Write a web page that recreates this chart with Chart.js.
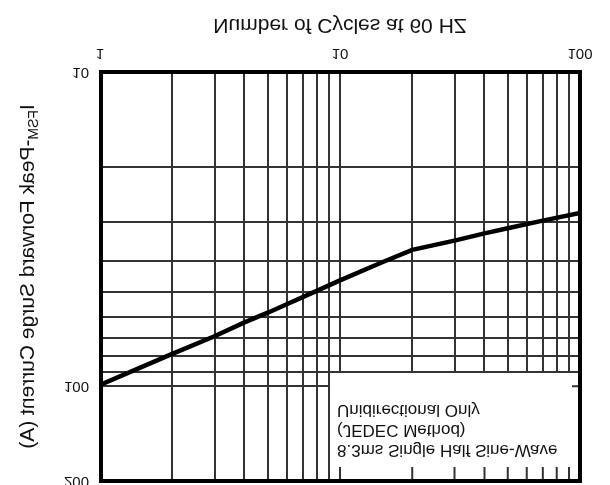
<!DOCTYPE html>
<html>
<head>
<meta charset="utf-8">
<script src="https://cdn.jsdelivr.net/npm/chart.js@4.4.1/dist/chart.umd.min.js"></script>
<style>
  html, body { margin: 0; padding: 0; background: #fff; }
  /* the source picture is mirrored top-to-bottom, so draw upright and flip */
  #wrap { width: 610px; height: 485px; transform: scaleY(-1); }
</style>
</head>
<body>
<div id="wrap"><canvas id="surgeChart"></canvas></div>
<script>
// --- data ---
const cycles = [1, 2, 3, 4, 5, 6, 8, 10, 15, 20, 30, 40, 50, 70, 100];
const surgeCurrent = [99, 78.8, 69.3, 62.6, 58.3, 54.8, 49.7, 46, 40.3, 36.8, 34.4, 32.6, 31.4, 29.7, 28.1];

const xGrid = [1, 2, 3, 4, 5, 6, 7, 8, 9, 10, 20, 30, 40, 50, 60, 70, 80, 90, 100];
const yGrid = [10, 20, 30, 40, 50, 60, 70, 80, 90, 100, 200];
const xTickLabels = ['1', '10', '100'];
const yTickLabels = ['10', '100', '200'];

const noteLines = ['8.3ms Single Half Sine-Wave', '(JEDEC Method)', 'Unidirectional Only'];
const noteFromCycles = 9;
const noteAboveAmps = 90;

const lineColor = '#333';
const textColor = '#111';
const fontFamily = '"Liberation Sans", Arial, Helvetica, sans-serif';
Chart.defaults.font.family = fontFamily;

// white note box, its edge ticks, frame and the y title with subscript
const notePlugin = {
    id: 'note',
    beforeDatasetsDraw(chart) {
        const { ctx, chartArea: a, scales: { x, y } } = chart;
        const left = x.getPixelForValue(noteFromCycles);
        const edge = y.getPixelForValue(noteAboveAmps);
        ctx.save();
        ctx.fillStyle = '#fff';
        ctx.fillRect(left + 1, a.top, a.right - left - 1, edge - a.top - 1);

        ctx.strokeStyle = lineColor;
        ctx.lineWidth = 2;
        ctx.beginPath();
        xGrid.filter(v => v > noteFromCycles && v < 100).forEach(v => {
            const px = x.getPixelForValue(v);
            ctx.moveTo(px, a.top);
            ctx.lineTo(px, a.top + 14);
        });
        const p100 = y.getPixelForValue(100);
        ctx.moveTo(a.right - 8, p100);
        ctx.lineTo(a.right, p100);
        ctx.stroke();

        ctx.fillStyle = textColor;
        ctx.font = '17px ' + fontFamily;
        ctx.textBaseline = 'middle';
        noteLines.forEach((t, i) => ctx.fillText(t, left + 8, a.top + 31 + i * 20));
        ctx.restore();
    },
    afterDatasetsDraw(chart) {
        const { ctx, chartArea: a } = chart;
        ctx.save();
        ctx.strokeStyle = '#000';
        ctx.lineWidth = 4;
        ctx.strokeRect(a.left + 1, a.top, a.right - a.left - 1, a.bottom - a.top);

        // y title: I + FSM subscript
        const big = '21px ' + fontFamily;
        const small = '14px ' + fontFamily;
        const rest = '-Peak Forward Surge Current (A)';
        ctx.font = big;
        const wI = ctx.measureText('I').width;
        const wR = ctx.measureText(rest).width;
        ctx.font = small;
        const wS = ctx.measureText('FSM').width;
        ctx.translate(27, (a.top + a.bottom) / 2);
        ctx.rotate(-Math.PI / 2);
        ctx.fillStyle = textColor;
        ctx.textBaseline = 'alphabetic';
        let cx = -(wI + wS + wR) / 2;
        ctx.font = big;
        ctx.fillText('I', cx, 7);
        cx += wI;
        ctx.font = small;
        ctx.fillText('FSM', cx, 11);
        cx += wS;
        ctx.font = big;
        ctx.fillText(rest, cx, 7);
        ctx.restore();
    }
};

new Chart(document.getElementById('surgeChart'), {
    type: 'scatter',
    data: {
        datasets: [{
            data: cycles.map((c, i) => ({ x: c, y: surgeCurrent[i] })),
            showLine: true,
            borderColor: '#000',
            borderWidth: 4.5,
            pointRadius: 0,
            tension: 0
        }]
    },
    options: {
        responsive: true,
        maintainAspectRatio: false,
        animation: false,
        layout: { padding: { top: 4, right: 30, bottom: 0, left: 0 } },
        plugins: { legend: { display: false }, tooltip: { enabled: false } },
        scales: {
            x: {
                type: 'logarithmic',
                min: 1,
                max: 100,
                position: 'bottom',
                afterBuildTicks: s => { s.ticks = xGrid.map(v => ({ value: v })); },
                afterFit: s => { s.height = 72; },
                grid: { color: lineColor, lineWidth: 2, drawTicks: false },
                border: { display: false },
                ticks: {
                    autoSkip: false,
                    maxRotation: 0,
                    padding: 10,
                    color: textColor,
                    font: { size: 15 },
                    callback: v => xTickLabels.includes(String(v)) ? String(v) : ''
                },
                title: {
                    display: true,
                    text: 'Number of Cycles at 60 HZ',
                    color: textColor,
                    font: { size: 21 },
                    padding: { top: 0, bottom: 12 }
                }
            },
            y: {
                type: 'logarithmic',
                min: 10,
                max: 200,
                afterBuildTicks: s => { s.ticks = yGrid.map(v => ({ value: v })); },
                afterFit: s => { s.width = 100; s.paddingTop = 0; s.paddingBottom = 0; },
                grid: { color: lineColor, lineWidth: 2, drawTicks: false },
                border: { display: false },
                ticks: {
                    autoSkip: false,
                    padding: 11,
                    color: textColor,
                    font: { size: 15 },
                    callback: v => yTickLabels.includes(String(v)) ? String(v) : ''
                }
            }
        }
    },
    plugins: [notePlugin]
});
</script>
</body>
</html>
